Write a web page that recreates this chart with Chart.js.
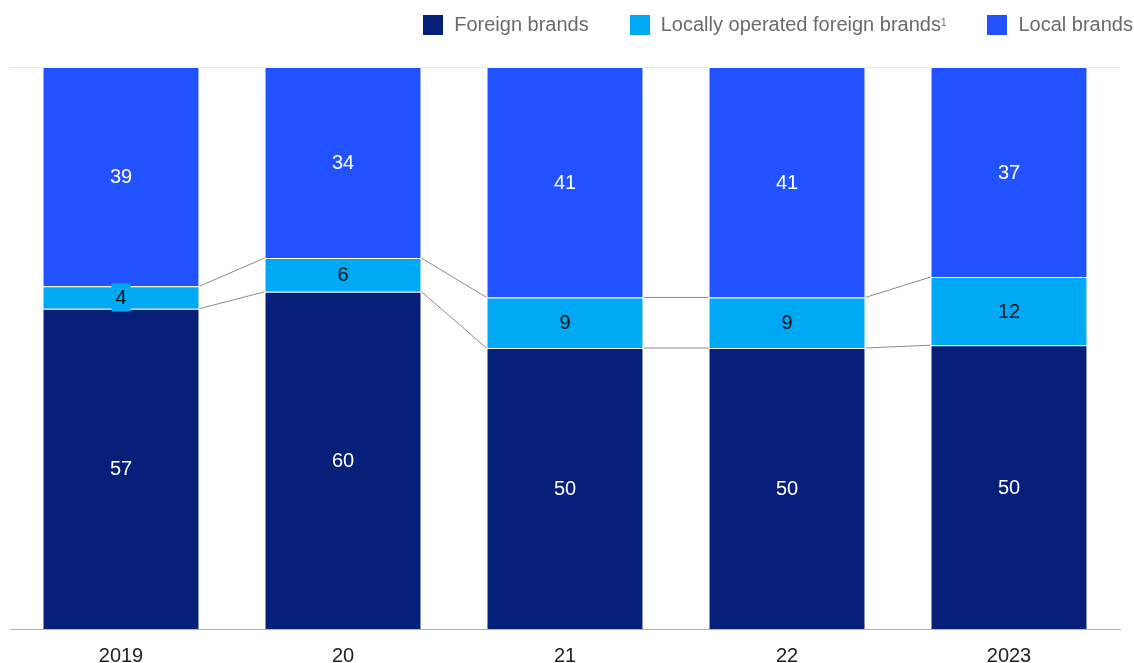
<!DOCTYPE html>
<html>
<head>
<meta charset="utf-8">
<script src="https://cdn.jsdelivr.net/npm/chart.js@4.4.1/dist/chart.umd.min.js"></script>
<style>
  html, body { margin: 0; padding: 0; background: #fff; overflow: hidden; }
  #wrap { position: relative; width: 1134px; height: 663px; }
  #legend {
    position: absolute; top: 13px; right: 1px;
    display: flex; align-items: center;
    font-family: "Liberation Sans", Arial, sans-serif; font-size: 20px; color: #6b6b6b;
  }
  #legend .item { display: flex; align-items: center; margin-left: 41px; }
  #legend .sw { width: 20px; height: 20px; margin-right: 11px; }
  #legend sup { font-size: 10px; position: relative; top: -2px; }
</style>
</head>
<body>
<div id="wrap">
  <div id="legend"></div>
  <canvas id="miGrafico" width="1134" height="663"></canvas>
</div>
<script>
// datos (% de participación)
const years = ["2019", "20", "21", "22", "2023"];
const foreignBrands = [57, 60, 50, 50, 50];
const locallyOperated = [4, 6, 9, 9, 12];
const localBrands = [39, 34, 41, 41, 37];

const seriesNames = ["Foreign brands", "Locally operated foreign brands", "Local brands"];
const colors = ["#061f79", "#00a9f4", "#2251ff"];
const labelColors = ["#ffffff", "#111111", "#ffffff"];
const rawSeries = [foreignBrands, locallyOperated, localBrands];

// cada barra se lleva a 100 (2023 suma 99)
const totals = years.map((_, i) => foreignBrands[i] + locallyOperated[i] + localBrands[i]);
const share = arr => arr.map((v, i) => v / totals[i] * 100);

// leyenda en HTML
const legend = document.getElementById("legend");
seriesNames.forEach((name, i) => {
  const item = document.createElement("div");
  item.className = "item";
  if (i === 0) item.style.marginLeft = "0";
  item.innerHTML = '<span class="sw" style="background:' + colors[i] + '"></span>' +
    name + (i === 1 ? "<sup>1</sup>" : "");
  legend.appendChild(item);
});

const fontFamily = '"Liberation Sans", Arial, sans-serif';

// líneas de conexión, línea superior y etiquetas de valores
const extras = {
  id: "extras",
  beforeDatasetsDraw(chart) {
    const { ctx, chartArea, scales } = chart;
    const y100 = scales.y.getPixelForValue(100);
    ctx.save();
    ctx.strokeStyle = "#e6e6e6";
    ctx.lineWidth = 1;
    ctx.beginPath();
    ctx.moveTo(chartArea.left, y100 + 0.5);
    ctx.lineTo(chartArea.right, y100 + 0.5);
    ctx.stroke();
    ctx.restore();
  },
  afterDatasetsDraw(chart) {
    const ctx = chart.ctx;
    ctx.save();
    // conectores
    ctx.strokeStyle = "#8a8a8a";
    ctx.lineWidth = 1;
    [0, 1].forEach(d => {
      const bars = chart.getDatasetMeta(d).data;
      for (let i = 0; i < bars.length - 1; i++) {
        const a = bars[i], b = bars[i + 1];
        ctx.beginPath();
        ctx.moveTo(a.x + a.width / 2, a.y);
        ctx.lineTo(b.x - b.width / 2, b.y);
        ctx.stroke();
      }
    });
    // etiquetas
    ctx.font = "20px " + fontFamily;
    ctx.textAlign = "center";
    ctx.textBaseline = "middle";
    rawSeries.forEach((arr, d) => {
      const bars = chart.getDatasetMeta(d).data;
      bars.forEach((bar, i) => {
        const yMid = (bar.y + bar.base) / 2;
        const h = Math.abs(bar.base - bar.y);
        const txt = String(arr[i]);
        if (h < 28) {
          const w = ctx.measureText(txt).width + 8;
          ctx.fillStyle = colors[d];
          ctx.fillRect(bar.x - w / 2, yMid - 14, w, 28);
        }
        ctx.fillStyle = labelColors[d];
        ctx.fillText(txt, bar.x, yMid + 1);
      });
    });
    ctx.restore();
  }
};

const ctx = document.getElementById("miGrafico").getContext("2d");
const miGrafico = new Chart(ctx, {
  type: "bar",
  data: {
    labels: years,
    datasets: rawSeries.map((arr, d) => ({
      label: seriesNames[d],
      data: share(arr),
      backgroundColor: colors[d],
      borderColor: "rgba(255,255,255,0.85)",
      borderWidth: 1,
      borderSkipped: "bottom",
      barPercentage: 0.707,
      categoryPercentage: 1
    }))
  },
  options: {
    responsive: false,
    animation: false,
    layout: { padding: { top: 67, left: 10, right: 14, bottom: 0 } },
    plugins: { legend: { display: false }, tooltip: { enabled: false } },
    scales: {
      x: {
        stacked: true,
        grid: { display: false, drawTicks: false },
        border: { display: true, color: "#b5b5b5", width: 1 },
        ticks: {
          color: "#222",
          padding: 17,
          font: { family: fontFamily, size: 20, lineHeight: 1 }
        },
        afterFit(scale) { scale.height = 34; }
      },
      y: { stacked: true, display: false, min: 0, max: 100 }
    }
  },
  plugins: [extras]
});
</script>
</body>
</html>
